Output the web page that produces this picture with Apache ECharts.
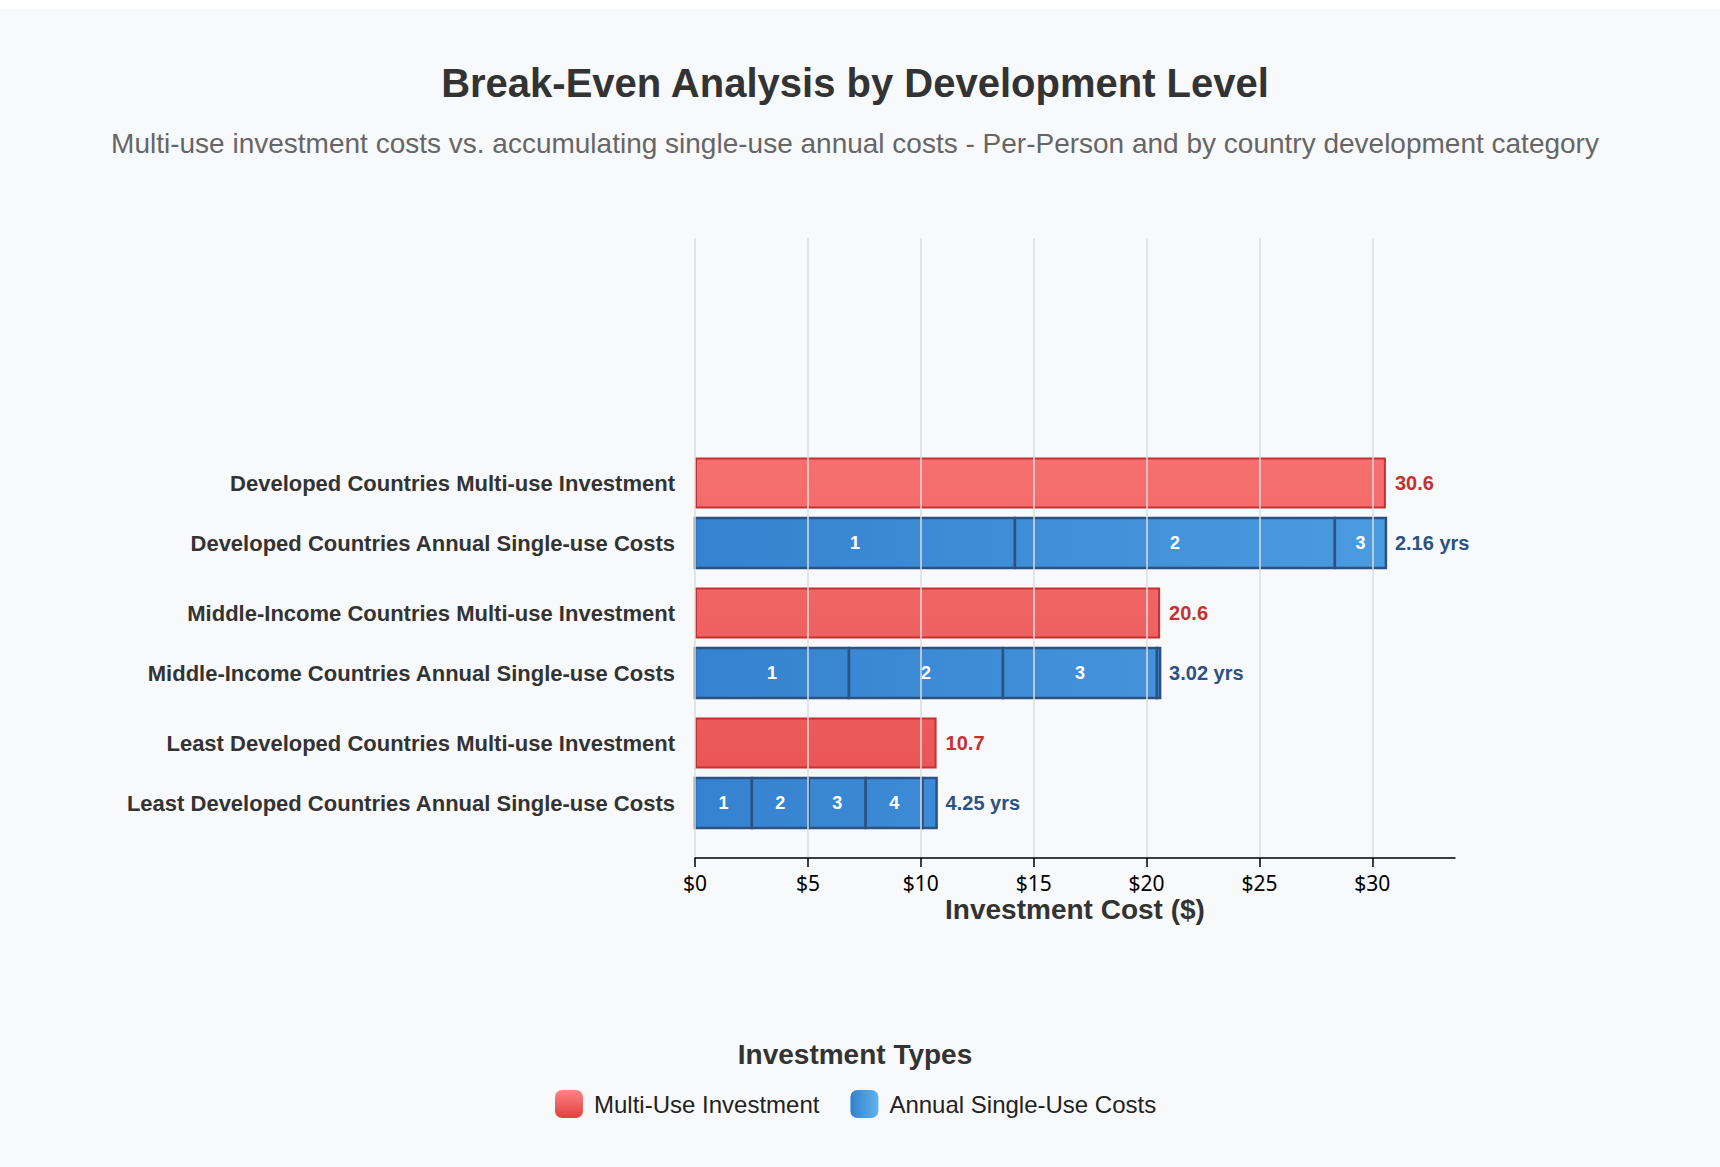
<!DOCTYPE html>
<html>
<head>
<meta charset="utf-8">
<script src="https://cdn.jsdelivr.net/npm/echarts@6/dist/echarts.min.js"></script>
<style>
html,body{margin:0;padding:0;background:#ffffff;}
#chart{width:1720px;height:1167px;background:linear-gradient(#ffffff 0,#ffffff 9px,#f8f9fa 9px);}
</style>
</head>
<body>
<div id="chart"></div>
<script>
// ---- data ----
const groups = ['Developed Countries', 'Middle-Income Countries', 'Least Developed Countries'];
const multiUseLabels = [
  'Developed Countries Multi-use Investment',
  'Middle-Income Countries Multi-use Investment',
  'Least Developed Countries Multi-use Investment'
];
const annualLabels = [
  'Developed Countries Annual Single-use Costs',
  'Middle-Income Countries Annual Single-use Costs',
  'Least Developed Countries Annual Single-use Costs'
];
const multiUseCost = [30.6, 20.6, 10.7];          // $ per person, one-off
const annualSingleUseCost = [14.17, 6.82, 2.52];  // $ per person per year
const xTickValues = [0, 5, 10, 15, 20, 25, 30];

const titleText = 'Break-Even Analysis by Development Level';
const subtitleText = 'Multi-use investment costs vs. accumulating single-use annual costs - Per-Person and by country development category';
const xAxisTitle = 'Investment Cost ($)';
const legendTitle = 'Investment Types';
const multiName = 'Multi-Use Investment';
const annualName = 'Annual Single-Use Costs';

// ---- layout / style ----
const FONT = '"Liberation Sans", Arial, sans-serif';
const PLOT_LEFT = 695, PLOT_WIDTH = 760, PLOT_TOP = 238, PLOT_BOTTOM_Y = 858;
const GROUP_TOP = 453, GROUP_PITCH = 130, GROUP_HEIGHT = 120;
const BAR_H = 50;
const X_MAX = Math.max.apply(null, multiUseCost) * 1.1;

const redGrad = new echarts.graphic.LinearGradient(0, 457, 0, 768, [
  {offset: 0, color: '#f67070'}, {offset: 1, color: '#ea5656'}
], true);
const blueGrad = new echarts.graphic.LinearGradient(695, 0, 1386, 0, [
  {offset: 0, color: '#3582d0'}, {offset: 1, color: '#4a9be0'}
], true);

function segmentsFor(g) {
  const total = multiUseCost[g], a = annualSingleUseCost[g];
  const segs = [];
  let s = 0, yr = 1;
  while (s < total - 1e-9) {
    const e = Math.min(s + a, total);
    segs.push([s, e, yr, 1]);
    s = e; yr++;
  }
  return segs;
}

const grids = [{left: PLOT_LEFT, width: PLOT_WIDTH, top: PLOT_TOP, height: PLOT_BOTTOM_Y - PLOT_TOP}];
const xAxes = [{
  gridIndex: 0, type: 'value', min: 0, max: X_MAX, interval: 5, z: 10,
  axisLine: {show: true, onZero: false, lineStyle: {color: '#000', width: 1.5}},
  axisTick: {show: true, length: 9, lineStyle: {color: '#000', width: 1.5}},
  axisLabel: {
    margin: 14, color: '#000', fontSize: 21, fontFamily: '"Noto Sans", sans-serif',
    showMaxLabel: false,
    formatter: v => xTickValues.indexOf(v) >= 0 ? '$' + v : ''
  },
  splitLine: {show: true, showMaxLine: false, lineStyle: {color: '#dcdcdc', width: 1.5}},
  name: xAxisTitle, nameLocation: 'middle', nameGap: 37, nameMoveOverlap: false,
  nameTextStyle: {fontSize: 28, fontWeight: 'bold', color: '#333', fontFamily: FONT}
}];
const yAxes = [{gridIndex: 0, type: 'value', show: false, min: 0, max: 1}];
const series = [];

groups.forEach((grp, g) => {
  const gi = g + 1;
  grids.push({left: PLOT_LEFT, width: PLOT_WIDTH, top: GROUP_TOP + GROUP_PITCH * g, height: GROUP_HEIGHT});
  xAxes.push({gridIndex: gi, type: 'value', min: 0, max: X_MAX, show: false});
  yAxes.push({
    gridIndex: gi, type: 'category', inverse: true,
    data: [multiUseLabels[g], annualLabels[g]],
    axisLine: {show: false}, axisTick: {show: false}, splitLine: {show: false},
    axisLabel: {margin: 20, fontSize: 22, fontWeight: 'bold', color: '#333', fontFamily: FONT}
  });
  series.push({
    type: 'bar', name: multiName, xAxisIndex: gi, yAxisIndex: gi,
    data: [multiUseCost[g], '-'], barWidth: BAR_H + 1,
    itemStyle: {color: redGrad, borderColor: '#c53030', borderWidth: 2},
    label: {show: true, position: 'right', distance: 9, color: '#c53030', fontSize: 20,
            fontWeight: 'bold', fontFamily: FONT},
    emphasis: {disabled: true}
  });
  const segs = segmentsFor(g);
  const yrsText = (multiUseCost[g] / annualSingleUseCost[g]).toFixed(2) + ' yrs';
  series.push({
    type: 'custom', name: annualName, coordinateSystem: 'cartesian2d',
    xAxisIndex: gi, yAxisIndex: gi,
    itemStyle: {color: '#3f8fd8'},
    encode: {x: [0, 1], y: 3},
    data: segs,
    renderItem: function (params, api) {
      const p0 = api.coord([api.value(0), api.value(3)]);
      const p1 = api.coord([api.value(1), api.value(3)]);
      const w = p1[0] - p0[0];
      const children = [{
        type: 'rect',
        shape: {x: p0[0], y: p0[1] - BAR_H / 2, width: w, height: BAR_H},
        style: {fill: blueGrad, stroke: '#2c5282', lineWidth: 2.5}
      }];
      if (w > 24) {
        children.push({type: 'text', z2: 5, style: {
          text: String(api.value(2)), x: (p0[0] + p1[0]) / 2, y: p0[1],
          align: 'center', verticalAlign: 'middle', fill: '#ffffff',
          font: 'bold 18px ' + FONT}});
      }
      if (params.dataIndex === segs.length - 1) {
        children.push({type: 'text', z2: 5, style: {
          text: yrsText, x: p1[0] + 9, y: p0[1],
          align: 'left', verticalAlign: 'middle', fill: '#2c5282',
          font: 'bold 20px ' + FONT}});
      }
      return {type: 'group', children: children};
    }
  });
});

const chart = echarts.init(document.getElementById('chart'), null, {renderer: 'svg'});
chart.setOption({
  animation: false,
  backgroundColor: 'transparent',
  grid: grids,
  xAxis: xAxes,
  yAxis: yAxes,
  series: series,
  legend: {
    left: 550, top: 1085, itemWidth: 28, itemHeight: 28, itemGap: 31,
    selectedMode: false,
    textStyle: {fontSize: 24, color: '#222', fontFamily: FONT, padding: [0, 0, 0, 6]},
    data: [
      {name: multiName, icon: 'roundRect', itemStyle: {borderWidth: 0, color: {
        type: 'linear', x: 0, y: 0, x2: 0, y2: 1,
        colorStops: [{offset: 0, color: '#fc8585'}, {offset: 1, color: '#e53e3e'}]}}},
      {name: annualName, icon: 'roundRect', itemStyle: {borderWidth: 0, color: {
        type: 'linear', x: 0, y: 0, x2: 1, y2: 0,
        colorStops: [{offset: 0, color: '#3182ce'}, {offset: 1, color: '#63b3ed'}]}}}
    ]
  },
  graphic: [
    {type: 'text', x: 855, y: 83, style: {text: titleText, align: 'center', verticalAlign: 'middle',
      font: 'bold 40px ' + FONT, fill: '#333'}},
    {type: 'text', x: 855, y: 143, style: {text: subtitleText, align: 'center', verticalAlign: 'middle',
      font: '28px ' + FONT, fill: '#666'}},
    {type: 'text', x: 855, y: 1054, style: {text: legendTitle, align: 'center', verticalAlign: 'middle',
      font: 'bold 28px ' + FONT, fill: '#333'}}
  ]
});
</script>
</body>
</html>
